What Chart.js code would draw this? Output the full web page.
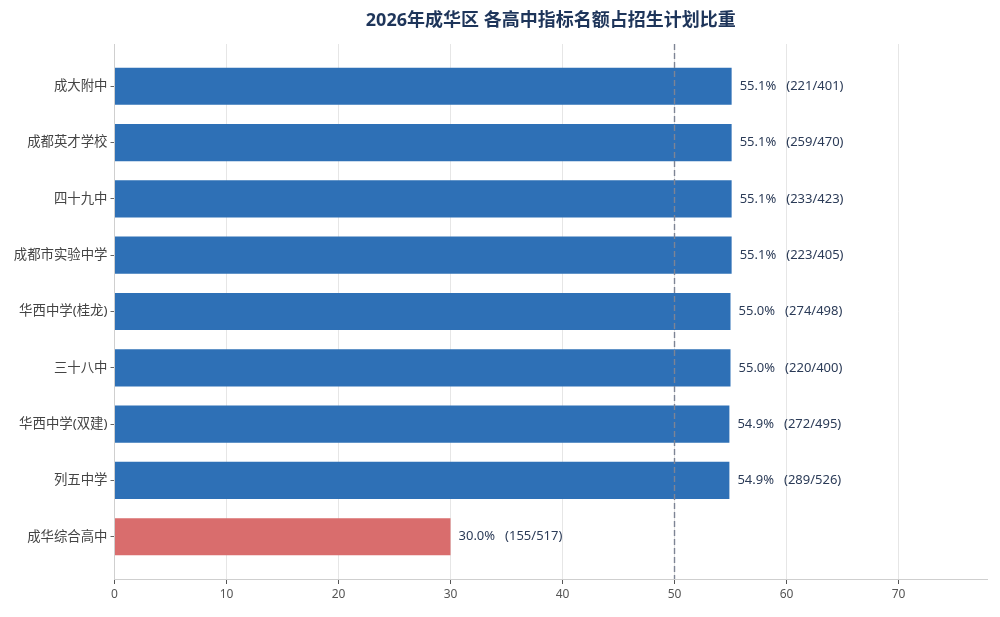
<!DOCTYPE html>
<html>
<head>
<meta charset="utf-8">
<script src="https://cdn.jsdelivr.net/npm/chart.js@4"></script>
<style>
  html, body { margin: 0; padding: 0; background: #fff; }
  #wrap { width: 1000px; height: 617px; }
</style>
</head>
<body>
<div id="wrap"><canvas id="chart"></canvas></div>
<script>
var schools = ["成大附中", "成都英才学校", "四十九中", "成都市实验中学", "华西中学(桂龙)", "三十八中", "华西中学(双建)", "列五中学", "成华综合高中"];
var quota = [221, 259, 233, 223, 274, 220, 272, 289, 155];
var plan = [401, 470, 423, 405, 498, 400, 495, 526, 517];
var ratio = [55.1, 55.1, 55.1, 55.1, 55.0, 55.0, 54.9, 54.9, 30.0];
var xTicks = [0, 10, 20, 30, 40, 50, 60, 70];
var refLine = 50;
var titleText = "2026年成华区 各高中指标名额占招生计划比重";

var FONT = "'Noto Sans', 'Noto Sans CJK SC', sans-serif";

var barColors = [];
for (var i = 0; i < schools.length; i++) {
    barColors.push(i === schools.length - 1 ? "#d96d6d" : "#2e70b6");
}

var barData = ratio.map(function (v, i) { return { x: v, y: i }; });

// value labels to the right of each bar + title centred on the plot
var labelPlugin = {
    id: "labels",
    afterDatasetsDraw: function (chart) {
        var ctx = chart.ctx;
        var meta = chart.getDatasetMeta(0);
        ctx.save();
        ctx.font = "13px " + FONT;
        ctx.fillStyle = "#2b3b57";
        ctx.textBaseline = "middle";
        ctx.textAlign = "left";
        meta.data.forEach(function (bar, i) {
            var pct = ratio[i].toFixed(1) + "%";
            var cnt = "(" + quota[i] + "/" + plan[i] + ")";
            ctx.fillText(pct, bar.x + 8, bar.y);
            ctx.fillText(cnt, bar.x + 8 + ctx.measureText(pct).width + 10, bar.y);
        });
        var area = chart.chartArea;
        ctx.font = "bold 18px " + FONT;
        ctx.fillStyle = "#1e355a";
        ctx.textAlign = "center";
        ctx.fillText(titleText, (area.left + area.right) / 2, 21);
        ctx.restore();
    }
};

var ctx = document.getElementById("chart");
new Chart(ctx, {
    data: {
        datasets: [
            {
                type: "bar",
                data: barData,
                backgroundColor: barColors,
                borderWidth: 0,
                barPercentage: 0.66,
                categoryPercentage: 1,
                order: 2
            },
            {
                type: "line",
                data: [{ x: refLine, y: -0.75 }, { x: refLine, y: 8.75 }],
                borderColor: "#7d8494",
                borderWidth: 1.4,
                borderDash: [6, 3],
                pointRadius: 0,
                order: 1
            }
        ]
    },
    options: {
        indexAxis: "y",
        responsive: true,
        maintainAspectRatio: false,
        animation: false,
        layout: { padding: { left: 0, right: 13, top: 44, bottom: 0 } },
        plugins: {
            legend: { display: false },
            tooltip: { enabled: false }
        },
        scales: {
            x: {
                type: "linear",
                min: 0,
                max: 77.9,
                offset: false,
                afterBuildTicks: function (axis) {
                    axis.ticks = xTicks.map(function (v) { return { value: v }; });
                },
                afterFit: function (scale) { scale.height = 38; },
                grid: { color: "#e6e6e6", tickColor: "#555", tickLength: 5, offset: false },
                border: { color: "#cfcfcf" },
                ticks: { color: "#555", font: { family: FONT, size: 12 }, padding: 3 }
            },
            y: {
                type: "linear",
                reverse: true,
                min: -0.75,
                max: 8.75,
                offset: false,
                afterBuildTicks: function (axis) {
                    axis.ticks = schools.map(function (s, i) { return { value: i }; });
                },
                afterFit: function (scale) { scale.width = 114.5; },
                grid: { display: true, drawOnChartArea: false, offset: false, tickColor: "#666", tickLength: 4 },
                border: { color: "#cfcfcf" },
                ticks: {
                    color: "#444",
                    font: { family: FONT, size: 13.4 },
                    padding: 3,
                    callback: function (v) { return schools[v]; }
                }
            }
        }
    },
    plugins: [labelPlugin]
});
</script>
</body>
</html>
